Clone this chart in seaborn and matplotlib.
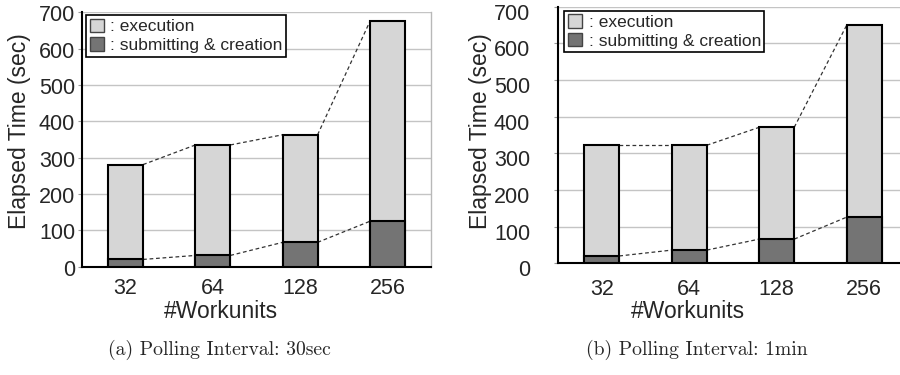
import matplotlib
matplotlib.use("Agg")
import matplotlib.pyplot as plt
import matplotlib.transforms as mtransforms
import seaborn as sns
import pandas as pd
from matplotlib.patches import Patch

# ---- data ----
workunits = ["32", "64", "128", "256"]
total_30sec = [281, 335, 363, 675]
submit_30sec = [20, 31, 67, 125]
total_1min = [322, 322, 371, 650]
submit_1min = [20, 36, 66, 126]
yticks = [0, 100, 200, 300, 400, 500, 600, 700]
legend_labels = [": execution", ": submitting & creation"]
captions = ["(a) Polling Interval: 30sec", "(b) Polling Interval: 1min"]
xlabel = "#Workunits"
ylabel = "Elapsed Time (sec)"

sns.set_style("white")
plt.rcParams["font.family"] = ["Liberation Sans", "DejaVu Sans"]

LIGHT = "#d6d6d6"
DARK = "#747474"
W, H = 900, 375

fig = plt.figure(figsize=(9, 3.75), dpi=100)

def px_axes(x0, x1, ytop, ybot):
    return fig.add_axes([x0 / W, 1 - ybot / H, (x1 - x0) / W, (ybot - ytop) / H])

panels = [
    dict(ax=px_axes(82, 431, 12.3, 266.7), total=total_30sec, submit=submit_30sec,
         leg=(0.012, 0.989), ypad=2, xpad=8, ydy=-1, ylab_x=20, xlab_x=221, cap_x=219),
    dict(ax=px_axes(558, 908, 6.7, 263.3), total=total_1min, submit=submit_1min,
         leg=(0.018, 0.984), ypad=17, xpad=11, ydy=-5, ylab_x=480, xlab_x=688, cap_x=697),
]

for k, p in enumerate(panels):
    ax = p["ax"]
    df = pd.DataFrame({"workunits": workunits, "total": p["total"], "submit": p["submit"]})
    sns.barplot(data=df, x="workunits", y="total", color=LIGHT, saturation=1,
                edgecolor="black", linewidth=1.5, width=0.4, errorbar=None, ax=ax, zorder=3)
    sns.barplot(data=df, x="workunits", y="submit", color=DARK, saturation=1,
                edgecolor="black", linewidth=1.5, width=0.4, errorbar=None, ax=ax, zorder=3)
    bars_total = ax.patches[:4]
    bars_sub = ax.patches[4:8]
    for bars in (bars_total, bars_sub):
        for i in range(len(bars) - 1):
            a, b = bars[i], bars[i + 1]
            ax.plot([a.get_x() + a.get_width(), b.get_x()],
                    [a.get_height(), b.get_height()],
                    color="#333333", lw=0.9, ls=(0, (3, 2.2)), zorder=2)
    ax.set_xlim(-0.5, 3.5)
    ax.set_ylim(0, 700)
    ax.set_yticks(yticks)
    ax.set_axisbelow(True)
    ax.yaxis.grid(True, color="#c4c4c4", lw=1.0)
    ax.set_xlabel("")
    ax.set_ylabel("")
    for s in ("left", "bottom"):
        ax.spines[s].set_color("black")
        ax.spines[s].set_linewidth(1.5)
    ax.spines["right"].set_color("#b8b8b8")
    ax.spines["right"].set_linewidth(1.0)
    ax.spines["top"].set_visible(False)
    ax.tick_params(axis="y", labelsize=15.5, length=3, color="#999999", pad=p["ypad"], left=True)
    ax.tick_params(axis="x", labelsize=15.5, length=0, pad=p["xpad"])
    off = mtransforms.ScaledTranslation(0, p["ydy"] / 100, fig.dpi_scale_trans)
    for lab in ax.get_yticklabels():
        lab.set_transform(lab.get_transform() + off)
    handles = [Patch(facecolor=LIGHT, edgecolor="#444444", lw=1.0),
               Patch(facecolor=DARK, edgecolor="#444444", lw=1.0)]
    leg = ax.legend(handles, legend_labels, loc="upper left", bbox_to_anchor=p["leg"],
                    borderaxespad=0, fontsize=12.5, frameon=True, fancybox=False,
                    framealpha=1, edgecolor="black", borderpad=0.2, labelspacing=0.18,
                    handlelength=0.8, handleheight=0.8, handletextpad=0.4)
    leg.get_frame().set_linewidth(1.2)
    leg.set_zorder(5)
    fig.text(p["ylab_x"] / W, 1 - 131 / H, ylabel, rotation=90, ha="center", va="center",
             fontsize=16.5)
    fig.text(p["xlab_x"] / W, 1 - 312 / H, xlabel, ha="center", va="center", fontsize=16.5)
    fig.text(p["cap_x"] / W, 1 - 350 / H, captions[k], ha="center", va="center",
             fontsize=14.2, family="cmr10")

fig.savefig("out.png", dpi=100)
